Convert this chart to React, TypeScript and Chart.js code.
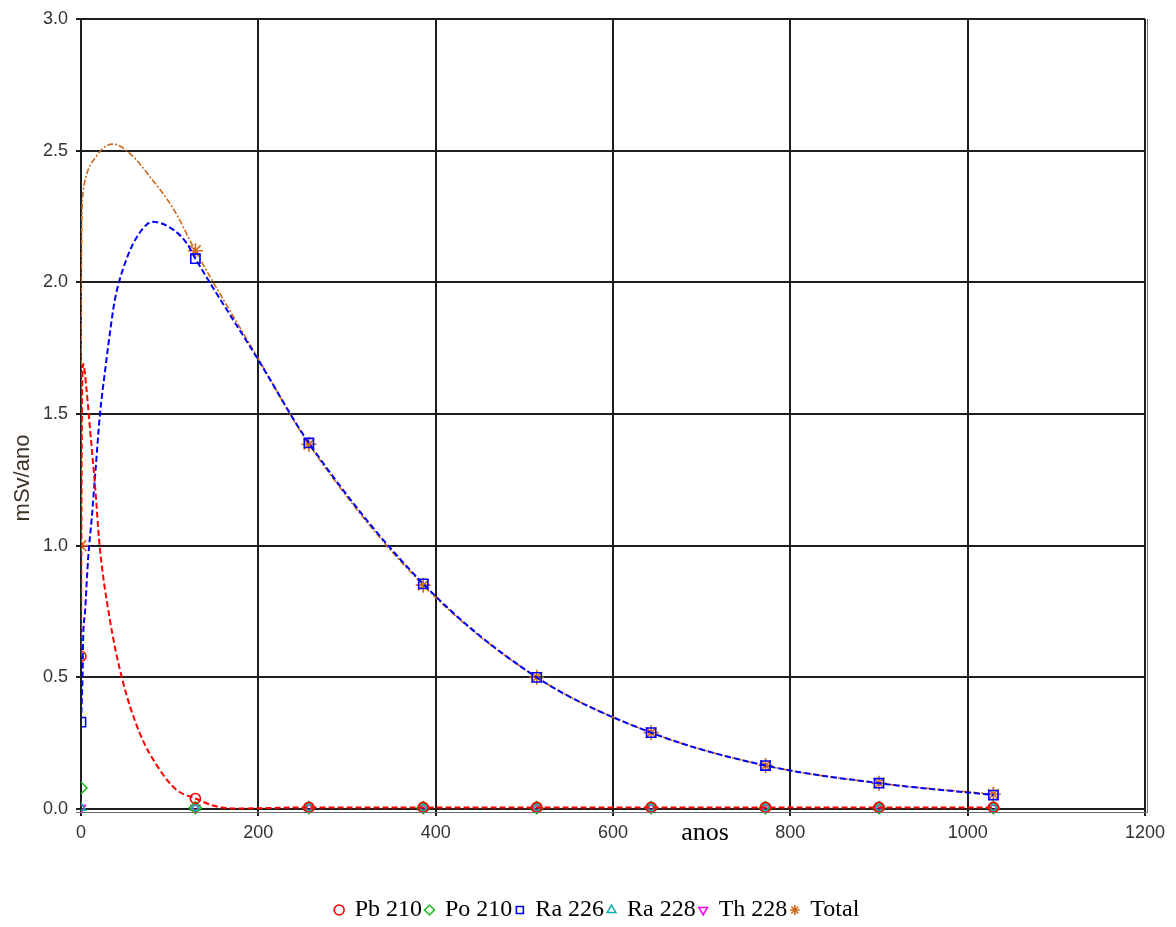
import React, { useEffect, useRef } from "react";
import { Chart, registerables } from "chart.js";

Chart.register(...registerables);

// ---- tick labels ----
const xTickValues = [0, 200, 400, 600, 800, 1000, 1200];
const xTickLabels = ["0", "200", "400", "600", "800", "1000", "1200"];
const yTickValues = [0, 0.5, 1, 1.5, 2, 2.5, 3];
const yTickLabels = ["0.0", "0.5", "1.0", "1.5", "2.0", "2.5", "3.0"];

const xTitle = "anos";
const yTitle = "mSv/ano";

// x positions that carry a visible marker
const markerX = [0, 129, 257, 386, 514, 643, 772, 900, 1029];

// ---- series ----
const pbLabel = "Pb 210";
const pbX = [0, 1, 2.5, 6, 10, 16, 21, 32, 46, 66, 89, 108, 129, 150, 175, 200, 257, 386, 514, 643, 772, 900, 1029];
const pbY = [0.58, 1.5, 1.69, 1.6, 1.45, 1.22, 1.0, 0.73, 0.5, 0.29, 0.148, 0.072, 0.04, 0.012, 0.002, 0.003, 0.006, 0.006, 0.006, 0.006, 0.006, 0.006, 0.006];

const poLabel = "Po 210";
const poX = [0, 129, 257, 386, 514, 643, 772, 900, 1029];
const poY = [0.08, 0.005, 0.005, 0.005, 0.005, 0.005, 0.005, 0.005, 0.005];

const ra226Label = "Ra 226";
const ra226X = [0, 2, 2.3, 4.5, 8, 12, 16, 21.4, 27, 32.7, 38, 51, 66.5, 81, 104, 119, 129, 200, 257, 386, 514, 643, 772, 900, 1029];
const ra226Y = [0.33, 0.55, 0.63, 0.745, 0.95, 1.1, 1.27, 1.5, 1.66, 1.81, 1.93, 2.085, 2.19, 2.23, 2.2, 2.15, 2.09, 1.705, 1.39, 0.855, 0.5, 0.29, 0.165, 0.098, 0.053];

const ra228Label = "Ra 228";
const ra228X = [0, 129, 257, 386, 514, 643, 772, 900, 1029];
const ra228Y = [0.005, 0.005, 0.005, 0.005, 0.005, 0.005, 0.005, 0.005, 0.005];

const th228Label = "Th 228";
const th228X = [0, 129, 257, 386, 514, 643, 772, 900, 1029];
const th228Y = [0.004, 0.004, 0.004, 0.004, 0.004, 0.004, 0.004, 0.004, 0.004];

const totalLabel = "Total";
const totalX = [0, 0.4, 2, 3.5, 17.6, 36, 55, 78, 104, 129, 200, 257, 386, 514, 643, 772, 900, 1029];
const totalY = [1.0, 2.03, 2.33, 2.37, 2.48, 2.525, 2.49, 2.4, 2.28, 2.12, 1.71, 1.385, 0.85, 0.5, 0.29, 0.165, 0.098, 0.056];

function makeSeries(
  label: string,
  xs: number[],
  ys: number[],
  color: string,
  pointStyle: string,
  radius: number,
  extra: any
) {
  return {
    label,
    data: xs.map((x, i) => ({ x, y: ys[i] })),
    borderColor: color,
    backgroundColor: "rgba(255,255,255,0)",
    pointBorderColor: color,
    pointBackgroundColor: "rgba(255,255,255,0)",
    pointStyle,
    pointRadius: xs.map((x) => (markerX.includes(x) ? radius : 0)),
    pointHoverRadius: 0,
    pointBorderWidth: 1.6,
    cubicInterpolationMode: "monotone",
    clip: { left: 0, top: 6, right: 8, bottom: 8 },
    ...extra,
  };
}

const framePlugin = {
  id: "frameAndTitles",
  afterLayout(chart: any) {
    const lg = chart.legend;
    if (lg) {
      lg.left += 21;
      lg.right += 21;
    }
  },
  afterDraw(chart: any) {
    const { ctx, chartArea } = chart;
    ctx.save();
    ctx.strokeStyle = "#6e6e6e";
    ctx.lineWidth = 1;
    ctx.beginPath();
    ctx.moveTo(chartArea.left - 5, chartArea.bottom + 3.5);
    ctx.lineTo(chartArea.right + 2.5, chartArea.bottom + 3.5);
    ctx.lineTo(chartArea.right + 2.5, chartArea.top);
    ctx.stroke();

    ctx.fillStyle = "#000000";
    ctx.font = "26px 'Liberation Serif', 'Times New Roman', serif";
    ctx.textAlign = "center";
    ctx.textBaseline = "alphabetic";
    ctx.fillText(xTitle, 697, 832);

    ctx.translate(20.5, 470);
    ctx.rotate(-Math.PI / 2);
    ctx.font = "22px 'Liberation Sans', Arial, sans-serif";
    ctx.fillStyle = "#3d3325";
    ctx.textAlign = "center";
    ctx.textBaseline = "alphabetic";
    ctx.fillText(yTitle, 0, 0);
    ctx.restore();
  },
};

export default function App() {
  const ref = useRef<HTMLCanvasElement | null>(null);

  useEffect(() => {
    if (!ref.current) return;
    const tickFont = { family: "'Liberation Sans', Arial, sans-serif", size: 18 };
    const chart = new Chart(ref.current, {
      type: "line",
      data: {
        datasets: [
          makeSeries(pbLabel, pbX, pbY, "#ff0000", "circle", 5, { borderWidth: 2, borderDash: [6, 3] }),
          makeSeries(poLabel, poX, poY, "#22bb22", "rectRot", 6, { borderWidth: 1.5, showLine: false }),
          makeSeries(ra226Label, ra226X, ra226Y, "#0000ff", "rect", 6.5, { borderWidth: 2, borderDash: [6, 3] }),
          makeSeries(ra228Label, ra228X, ra228Y, "#10b0b0", "triangle", 5, { borderWidth: 1.5, showLine: false }),
          makeSeries(th228Label, th228X, th228Y, "#ff00ff", "triangle", 5, { borderWidth: 1.5, showLine: false, pointRotation: 180 }),
          makeSeries(totalLabel, totalX, totalY, "#cc6a1a", "star", 7.5, { borderWidth: 1.6, borderDash: [6, 2, 2, 2] }),
        ] as any,
      },
      options: {
        responsive: false,
        animation: false,
        events: [],
        layout: { padding: { top: 11, right: 23, bottom: 0, left: 0 } },
        plugins: {
          legend: {
            position: "bottom",
            maxHeight: 25,
            labels: {
              usePointStyle: true,
              boxWidth: 7,
              boxHeight: 7,
              padding: 4,
              color: "#000000",
              font: { family: "'Liberation Serif', 'Times New Roman', serif", size: 24 },
            },
          },
          tooltip: { enabled: false },
        },
        scales: {
          x: {
            type: "linear",
            min: 0,
            max: 1200,
            afterBuildTicks: (s: any) => {
              s.ticks = xTickValues.map((v) => ({ value: v }));
            },
            afterFit: (s: any) => {
              s.height = 85;
              s.paddingLeft = 0;
              s.paddingRight = 0;
            },
            ticks: {
              callback: (_v: any, i: number) => xTickLabels[i],
              font: tickFont,
              color: "#333333",
              padding: 6,
              maxRotation: 0,
            },
            grid: { color: "#1e1e1e", lineWidth: 2, tickLength: 7 },
            border: { color: "#1e1e1e", width: 2 },
          },
          y: {
            type: "linear",
            min: 0,
            max: 3,
            afterBuildTicks: (s: any) => {
              s.ticks = yTickValues.map((v) => ({ value: v }));
            },
            afterFit: (s: any) => {
              s.width = 73;
              s.paddingTop = 0;
              s.paddingBottom = 0;
            },
            ticks: {
              callback: (_v: any, i: number) => yTickLabels[i],
              font: tickFont,
              color: "#333333",
              padding: 8,
            },
            grid: { color: "#1e1e1e", lineWidth: 2, tickLength: 5 },
            border: { color: "#1e1e1e", width: 2 },
          },
        },
      } as any,
      plugins: [framePlugin],
    });
    return () => chart.destroy();
  }, []);

  return (
    <div style={{ width: 1160, height: 911 }}>
      <canvas ref={ref} width={1160} height={911} style={{ display: "block", width: 1160, height: 911 }} />
    </div>
  );
}
